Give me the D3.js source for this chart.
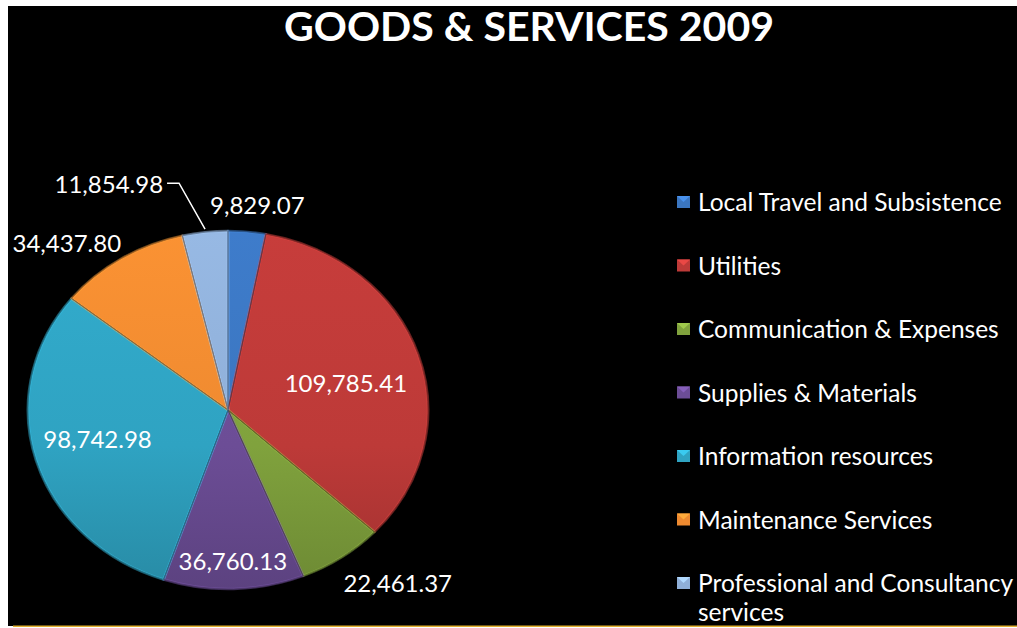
<!DOCTYPE html>
<html lang="en-US">
<head>
<meta charset="UTF-8">
<title>Goods & Services 2009</title>
<style>
  body { margin: 0; background: #fff; }
  svg { display: block; }
  text { font-family: Lato, "Open Sans", sans-serif; fill: #fff; }
</style>
</head>
<body>
<div id="viz"></div>
<script src="https://cdn.jsdelivr.net/npm/d3@7"></script>
<script>
// chart data
var categories = ["Local Travel and Subsistence", "Utilities", "Communication & Expenses",
                  "Supplies & Materials", "Information resources", "Maintenance Services",
                  "Professional and Consultancy services"];
var values = [9829.07, 109785.41, 22461.37, 36760.13, 98742.98, 34437.80, 11854.98];
var colors = ["#3b76c0", "#bd3a38", "#80a23d", "#6c4d96", "#2fa3c2", "#ee8a30", "#8fafd8"];
var title = "GOODS & SERVICES 2009";

var width = 1017, height = 628;
var cx = 228, cy = 410, rx = 200, ry = 179;

var svg = d3.select("#viz").append("svg")
    .attr("width", width).attr("height", height);

// black chart area
svg.append("rect").attr("x", 8).attr("y", 6).attr("width", width - 8).attr("height", 620).attr("fill", "#000");
svg.append("rect").attr("x", 13).attr("y", 625.5).attr("width", width - 13).attr("height", 1.5).attr("fill", "#e0b030");

// title
svg.append("text")
    .attr("x", 529).attr("y", 41)
    .attr("text-anchor", "middle")
    .attr("font-size", 41).attr("font-weight", "bold")
    .attr("textLength", 490).attr("lengthAdjust", "spacingAndGlyphs")
    .text(title);

// gradients (lighter top, darker bottom) to mimic the bevel look
var defs = svg.append("defs");
colors.forEach(function(c, i) {
  var g = defs.append("linearGradient").attr("id", "grad" + i)
      .attr("gradientUnits", "userSpaceOnUse")
      .attr("x1", 0).attr("y1", -ry).attr("x2", 0).attr("y2", ry);
  g.append("stop").attr("offset", "0%").attr("stop-color", d3.color(c).brighter(0.15));
  g.append("stop").attr("offset", "60%").attr("stop-color", c);
  g.append("stop").attr("offset", "100%").attr("stop-color", d3.color(c).darker(0.45));
});

var pie = d3.pie().sort(null).value(function(d) { return d; });
var arcs = pie(values);
var arc = d3.arc().innerRadius(0).outerRadius(ry);

var pieG = svg.append("g").attr("transform", "translate(" + cx + "," + cy + ")");
var slices = pieG.append("g").attr("transform", "scale(" + (rx / ry) + ",1)");

slices.selectAll("path.fill")
  .data(arcs).enter().append("path")
    .attr("class", "fill")
    .attr("d", arc)
    .attr("fill", function(d, i) { return "url(#grad" + i + ")"; })
    .attr("stroke", function(d, i) { return d3.color(colors[i]).brighter(0.5); })
    .attr("stroke-opacity", 0.45)
    .attr("stroke-width", 2.5)
    .attr("stroke-linejoin", "round");

slices.selectAll("path.edge")
  .data(arcs).enter().append("path")
    .attr("class", "edge")
    .attr("d", arc)
    .attr("fill", "none")
    .attr("stroke", function(d, i) { return d3.color(colors[i]).darker(1); })
    .attr("stroke-width", 0.8);

// point on the ellipse at angle a and radius factor k
function pt(a, k) {
  return [k * rx * Math.sin(a), -k * ry * Math.cos(a)];
}

// label placement: radius factor, anchor and nudges
var labelPos = [
  {k: 1.12, anchor: "middle", dx: 8,  dy: 4},
  {k: 0.62, anchor: "middle", dx: 0,  dy: 16},
  {k: 1.0,  anchor: "start",  dx: 2,  dy: 35},
  {k: 0.84, anchor: "middle", dx: 0,  dy: 10},
  {k: 0.68, anchor: "middle", dx: 0,  dy: 4},
  {k: 1.0,  anchor: "end",    dx: 0,  dy: -7},
  {k: 1.0,  anchor: "end",    dx: -42, dy: -39}
];
var fmt = d3.format(",.2f");

arcs.forEach(function(d, i) {
  var a = (d.startAngle + d.endAngle) / 2;
  var p = pt(a, labelPos[i].k);
  var lx = p[0] + labelPos[i].dx, ly = p[1] + labelPos[i].dy;
  pieG.append("text")
      .attr("x", lx).attr("y", ly)
      .attr("text-anchor", labelPos[i].anchor)
      .attr("font-size", 24)
      .text(fmt(values[i]));
  if (i === 6) {
    // leader line for the small slice
    var e = pt(a, 1.0);
    pieG.append("polyline")
        .attr("points", [[lx + 4, ly - 10], [lx + 16, ly - 10], [e[0], e[1] - 3]].join(" "))
        .attr("fill", "none").attr("stroke", "#fff").attr("stroke-width", 1.5);
  }
});

// legend
var legendY = d3.scalePoint().domain(categories).range([211, 592]);
var legend = svg.append("g");
categories.forEach(function(c, i) {
  var y = legendY(c);
  var m = legend.append("g");
  m.append("rect").attr("x", 677).attr("y", y - 15).attr("width", 13).attr("height", 12)
      .attr("fill", colors[i]);
  m.append("path")
      .attr("d", "M677," + (y - 15) + "L690," + (y - 15) + "L683.5," + (y - 9) + "Z")
      .attr("fill", d3.color(colors[i]).brighter(0.6));
  var words = c === "Professional and Consultancy services"
      ? ["Professional and Consultancy", "services"] : [c];
  var t = legend.append("text").attr("x", 698).attr("y", y).attr("font-size", 24.5);
  words.forEach(function(w, j) {
    t.append("tspan").attr("x", 698).attr("dy", j ? 29 : 0).text(w);
  });
});
</script>
</body>
</html>
